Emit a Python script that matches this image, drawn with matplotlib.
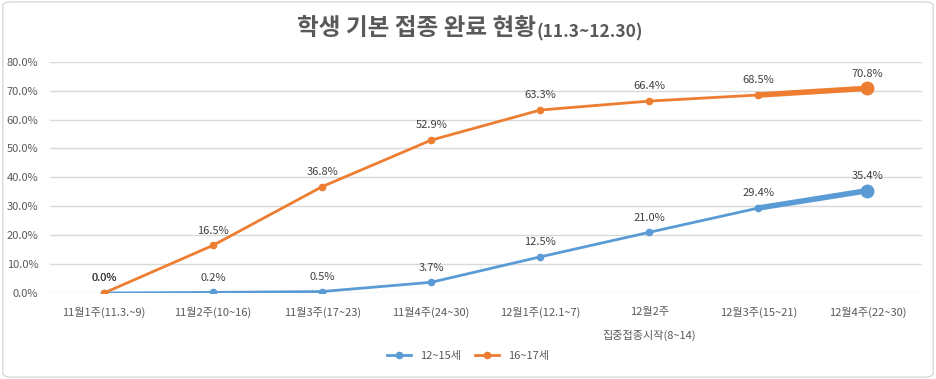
import numpy as np
import matplotlib.pyplot as plt
from matplotlib.patches import FancyBboxPatch
from matplotlib.lines import Line2D

plt.rcParams['font.family'] = ['Noto Sans CJK KR', 'DejaVu Sans']

weeks = ["11월1주(11.3.~9)", "11월2주(10~16)", "11월3주(17~23)", "11월4주(24~30)",
         "12월1주(12.1~7)", "12월2주\n\n집중접종시작(8~14)", "12월3주(15~21)", "12월4주(22~30)"]
age_12_15 = [0.0, 0.2, 0.5, 3.7, 12.5, 21.0, 29.4, 35.4]
age_16_17 = [0.0, 16.5, 36.8, 52.9, 63.3, 66.4, 68.5, 70.8]
series_names = ["12~15세", "16~17세"]
colors = ["#5B9BD5", "#ED7D31"]

fig = plt.figure(figsize=(9.36, 3.79), dpi=100)
fig.patches.append(FancyBboxPatch((0.003, 0.005), 0.994, 0.99, boxstyle="round,pad=0,rounding_size=0.01",
                                  transform=fig.transFigure, fill=False, edgecolor="#D9D9D9", linewidth=1))
ax = fig.add_axes([0.053, 0.227, 0.932, 0.61])

x = np.arange(len(weeks))
for vals, c in zip([age_12_15, age_16_17], colors):
    ax.plot(x[:-1], vals[:-1], color=c, lw=2, marker='o', ms=4.5, zorder=3)
    ax.plot(x[-2:], vals[-2:], color=c, lw=4, zorder=3)
    ax.plot(x[-1], vals[-1], color=c, marker='o', ms=9, zorder=4)
    for xi, v in zip(x, vals):
        ax.annotate(f"{v:.1f}%", (xi, v), xytext=(0, 7), textcoords="offset points",
                    ha='center', va='bottom', fontsize=8, color="#404040")

ax.set_xlim(-0.5, len(weeks) - 0.5)
ax.set_ylim(0, 80)
ax.set_yticks(np.arange(0, 81, 10))
ax.set_yticklabels([f"{t:.1f}%" for t in np.arange(0, 81, 10)], fontsize=8, color="#595959")
ax.set_xticks(x)
ax.set_xticklabels(weeks, fontsize=8, color="#595959", va='top')
ax.tick_params(length=0, pad=8)
ax.tick_params(axis='x', pad=10)
ax.grid(axis='y', color="#D9D9D9", lw=1)
ax.set_axisbelow(True)
for s in ax.spines.values():
    s.set_visible(False)

fig.text(0.573, 0.925, "학생 기본 접종 완료 현황", ha='right', va='center', fontsize=17,
         fontweight='bold', color="#595959")
fig.text(0.573, 0.915, "(11.3~12.30)", ha='left', va='center', fontsize=12.5,
         fontweight='bold', color="#595959")

handles = [Line2D([0], [0], color=c, lw=2, marker='o', ms=4.5) for c in colors]
fig.legend(handles, series_names, loc='center', bbox_to_anchor=(0.5, 0.06), ncol=2, frameon=False,
           fontsize=8, labelcolor="#595959", handlelength=2.2, columnspacing=1.2)

fig.savefig("out.png", dpi=100)
